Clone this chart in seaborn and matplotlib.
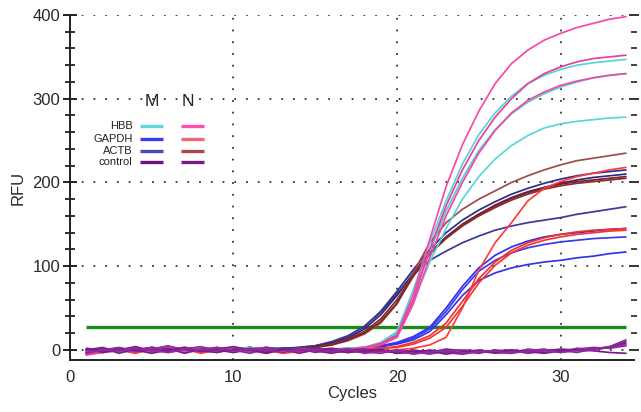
import matplotlib
matplotlib.use("Agg")
import matplotlib.pyplot as plt
from matplotlib.ticker import MultipleLocator
import seaborn as sns
import pandas as pd

cycles = list(range(1, 35))

# HBB, group M (cyan)
hbb_m1 = [-5,-2,1,0,-3,1,0,3,1,-2,0,2,0,-3,1,0,2,3,9,22,72,128,178,222,257,283,303,318,328,335,340,343,345,347]
hbb_m2 = [-4,-1,0,2,0,-2,1,0,-3,1,3,0,-2,0,1,1,0,2,8,20,66,118,166,205,238,263,282,296,306,314,320,325,328,330]
hbb_m3 = [-2,0,-3,1,0,2,-1,0,2,0,-3,1,0,1,-1,0,1,3,8,19,58,105,145,180,207,228,244,256,265,270,273,275,277,278]
# HBB, group N (pink)
hbb_n1 = [-6,-3,-1,0,2,3,0,-2,1,3,0,-2,0,1,0,-1,1,3,8,18,66,132,195,245,285,318,342,358,370,378,385,390,395,398]
hbb_n2 = [-5,-1,0,1,-2,0,3,1,-2,0,1,3,0,-2,0,1,0,2,7,17,60,120,172,215,250,278,300,318,330,338,344,348,350,352]
hbb_n3 = [-4,0,1,-2,0,1,-3,0,2,1,-2,0,1,0,-2,0,1,1,6,15,55,110,160,200,235,262,283,298,308,316,321,325,328,330]
# GAPDH, group M (blue)
gapdh_m1 = [-3,0,2,-1,0,3,0,2,1,-2,0,1,0,1,0,1,2,3,5,9,16,27,50,76,98,113,123,130,135,138,140,142,144,145]
gapdh_m2 = [0,2,-2,0,3,1,0,-2,1,0,2,0,-2,1,0,1,1,2,4,8,14,25,46,72,94,107,116,122,126,129,131,133,134,135]
gapdh_m3 = [-4,0,1,0,-2,2,0,1,0,3,0,-2,1,0,1,0,1,2,4,7,12,22,42,65,83,92,98,102,105,107,110,112,115,117]
# GAPDH, group N (red)
gapdh_n1 = [-6,-2,0,1,-3,0,1,-4,0,1,-2,0,-4,-2,0,-3,-1,-2,-1,0,2,6,15,50,95,128,152,178,193,201,207,211,215,218]
gapdh_n2 = [-4,0,-2,1,0,-3,0,1,-2,0,1,-3,0,-2,0,-1,0,1,2,4,9,17,32,58,85,105,119,128,134,138,141,143,144,145]
gapdh_n3 = [-5,-2,0,-4,1,0,-2,0,1,-3,0,-4,0,-2,0,0,1,1,2,3,7,14,27,52,80,101,116,125,131,135,138,140,142,143]
# ACTB, group M (navy)
actb_m1 = [-3,0,2,-1,3,1,0,-2,1,0,3,1,2,3,5,9,16,28,46,70,96,120,140,155,167,177,186,193,199,204,208,211,213,215]
actb_m2 = [-2,2,0,3,-1,0,2,0,-2,1,0,3,1,3,5,10,17,28,45,67,90,107,118,128,136,143,148,152,155,158,162,165,168,171]
actb_m3 = [0,-2,2,0,1,-2,0,3,0,1,-2,1,2,2,4,8,14,25,42,65,92,116,135,150,162,172,181,188,194,199,203,206,208,210]
# ACTB, group N (brown)
actb_n1 = [-3,0,2,0,-2,1,3,0,1,-2,0,1,0,2,3,6,11,19,32,55,92,128,152,168,180,190,200,208,215,221,226,229,232,235]
actb_n2 = [-2,1,0,-2,0,3,1,-2,0,1,3,0,1,1,3,6,12,20,34,56,88,114,134,150,162,173,182,189,194,198,201,203,205,207]
actb_n3 = [0,-3,1,0,2,0,-2,1,3,0,1,-2,0,2,3,7,13,22,37,60,90,115,133,148,160,170,179,186,192,196,199,201,203,205]
# control (purple)
ctrl_m1 = [1,-3,0,4,-1,2,-4,1,0,-3,2,-1,1,-4,0,2,-1,-3,1,-4,0,-3,1,-1,-4,0,-3,-1,1,-3,2,0,3,8]
ctrl_m2 = [-3,1,-1,0,3,-2,1,4,-1,0,-4,1,-1,2,-3,0,1,-2,-4,0,-2,-5,-1,-4,0,-3,-4,1,-1,0,-3,1,4,6]
ctrl_m3 = [0,3,-4,1,0,-1,3,-2,1,4,0,-3,2,0,-1,-4,0,1,-1,-3,-4,0,-3,-5,-2,-1,0,-4,-1,1,0,2,3,10]
ctrl_n1 = [-1,0,3,-2,1,5,0,-1,2,0,-1,3,0,1,-1,0,-3,0,-1,-2,-1,-4,-2,0,-1,-4,-2,0,-3,-1,1,3,2,5]
ctrl_n2 = [2,-1,1,0,-4,0,1,-1,-3,1,0,-4,1,-1,2,-1,-3,-1,0,-4,-2,-1,-5,-2,-1,-3,0,-2,-4,-1,0,-1,-3,-4]
ctrl_n3 = [-4,0,-1,2,0,-3,1,0,3,-1,1,0,-3,0,1,-2,1,-4,-2,-1,-5,-2,-1,-4,-2,-1,-4,-1,0,-3,-1,0,4,12]

threshold = 27

genes = ["HBB", "GAPDH", "ACTB", "control"]
groups = ["M", "N"]
legend_colors = {
    ("HBB", "M"): "#5cd8dc", ("HBB", "N"): "#ff4fae",
    ("GAPDH", "M"): "#3a3af0", ("GAPDH", "N"): "#f06a72",
    ("ACTB", "M"): "#4a4aac", ("ACTB", "N"): "#a84a4a",
    ("control", "M"): "#6a1280", ("control", "N"): "#7a1a88",
}

curves = [
    ("actb_m1", actb_m1, "#2c2c8c"), ("actb_m2", actb_m2, "#3a3a96"), ("actb_m3", actb_m3, "#2a2a80"),
    ("actb_n1", actb_n1, "#a04a4a"), ("actb_n2", actb_n2, "#7e2020"), ("actb_n3", actb_n3, "#8a2a2a"),
    ("gapdh_m1", gapdh_m1, "#3030f0"), ("gapdh_m2", gapdh_m2, "#3a3aee"), ("gapdh_m3", gapdh_m3, "#3434e6"),
    ("gapdh_n1", gapdh_n1, "#ff3c3c"), ("gapdh_n2", gapdh_n2, "#f43030"), ("gapdh_n3", gapdh_n3, "#ee3838"),
    ("hbb_m1", hbb_m1, "#55d4d8"), ("hbb_m2", hbb_m2, "#50d0d4"), ("hbb_m3", hbb_m3, "#58d6da"),
    ("hbb_n1", hbb_n1, "#f848a8"), ("hbb_n2", hbb_n2, "#e8409c"), ("hbb_n3", hbb_n3, "#f04aa4"),
    ("ctrl_m1", ctrl_m1, "#7a1a90"), ("ctrl_m2", ctrl_m2, "#8a2a9e"), ("ctrl_m3", ctrl_m3, "#7c208c"),
    ("ctrl_n1", ctrl_n1, "#8c2c9c"), ("ctrl_n2", ctrl_n2, "#7a1a88"), ("ctrl_n3", ctrl_n3, "#902aa0"),
]

rows = []
for name, vals, _ in curves:
    for c, v in zip(cycles, vals):
        rows.append({"Cycle": c, "RFU": v, "curve": name})
df = pd.DataFrame(rows)
palette = {name: col for name, _, col in curves}
order = [name for name, _, _ in curves]

sns.set_style("white")
plt.rcParams["font.family"] = ["Liberation Sans", "DejaVu Sans"]

fig = plt.figure(figsize=(6.41, 4.12), dpi=100)
ax = fig.add_axes([0.1092, 0.1262, 0.88, 0.8374])

# threshold line
ax.hlines(threshold, cycles[0], cycles[-1], color="#1a8a1a", linewidth=2.4, zorder=1)

sns.lineplot(data=df, x="Cycle", y="RFU", hue="curve", hue_order=order,
             palette=palette, estimator=None, legend=False, linewidth=1.25,
             ax=ax, zorder=2)

ax.set_xlim(0, 34.5)
ax.set_ylim(-12, 400)
ax.xaxis.set_major_locator(MultipleLocator(10))
ax.xaxis.set_minor_locator(MultipleLocator(2))
ax.yaxis.set_major_locator(MultipleLocator(100))
ax.yaxis.set_minor_locator(MultipleLocator(20))
ax.grid(True, which="major", color="#333333", linestyle=(0, (1, 5.5)), linewidth=1.3)
ax.set_axisbelow(True)

for s in ["top", "right"]:
    ax.spines[s].set_visible(False)
for s in ["left", "bottom"]:
    ax.spines[s].set_color("#222222")
    ax.spines[s].set_linewidth(1.4)

ax.tick_params(axis="both", which="major", direction="inout", length=10, width=1.4,
               color="#222222", labelsize=12, labelcolor="#2a2a2a", pad=2)
ax.tick_params(axis="both", which="minor", direction="inout", length=7, width=1.3,
               color="#222222")
ax.tick_params(axis="y", which="both", right=False)

# right-side inner ticks
ax2 = ax.twinx()
ax2.set_ylim(ax.get_ylim())
ax2.yaxis.set_major_locator(MultipleLocator(100))
ax2.yaxis.set_minor_locator(MultipleLocator(20))
for s in ax2.spines.values():
    s.set_visible(False)
ax2.tick_params(axis="y", which="major", direction="inout", length=7, width=1.4,
                color="#333333", labelright=False)
ax2.tick_params(axis="y", which="minor", direction="inout", length=5, width=1.3,
                color="#333333")

ax.set_xlabel("Cycles", fontsize=12, color="#2a2a2a", labelpad=1)
ax.set_ylabel("RFU", fontsize=12, color="#2a2a2a")
ax.yaxis.set_label_coords(-0.078, 0.5)

# custom legend
ax.text(0.145, 0.748, "M", transform=ax.transAxes, fontsize=12.5, ha="center", va="center", color="#222222")
ax.text(0.209, 0.748, "N", transform=ax.transAxes, fontsize=12.5, ha="center", va="center", color="#222222")
row_y = [0.678, 0.641, 0.606, 0.574]
for gene, yy in zip(genes, row_y):
    ax.text(0.111, yy, gene, transform=ax.transAxes, fontsize=8, ha="right", va="center", color="#222222")
    ax.plot([0.124, 0.164], [yy, yy], transform=ax.transAxes, color=legend_colors[(gene, "M")],
            linewidth=2.4, solid_capstyle="butt", clip_on=False)
    ax.plot([0.196, 0.237], [yy, yy], transform=ax.transAxes, color=legend_colors[(gene, "N")],
            linewidth=2.4, solid_capstyle="butt", clip_on=False)

fig.savefig("out.png", dpi=100)
